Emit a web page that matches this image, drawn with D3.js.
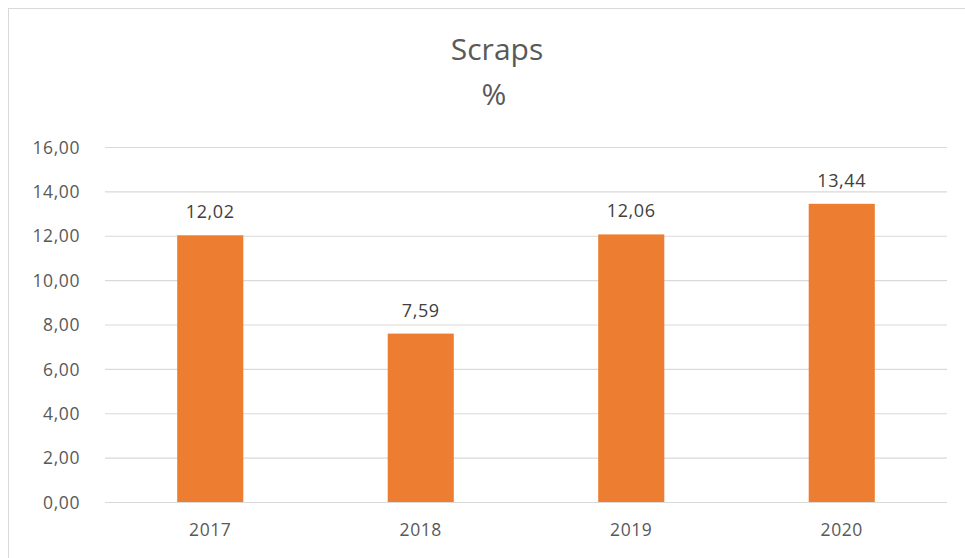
<!DOCTYPE html>
<html>
<head>
<meta charset="utf-8">
<script src="https://cdn.jsdelivr.net/npm/d3@7"></script>
<style>
  html, body { margin: 0; padding: 0; background: #ffffff; }
  svg { display: block; }
</style>
</head>
<body>
<svg id="chart" width="965" height="558"></svg>
<script>
const categories = ["2017", "2018", "2019", "2020"];
const values = [12.02, 7.59, 12.06, 13.44];
const tickValues = [0, 2, 4, 6, 8, 10, 12, 14, 16];
const titleLines = ["Scraps", "%"];

const fmt = v => v.toFixed(2).replace(".", ",");

const svg = d3.select("#chart");
const W = 965, H = 558;

svg.append("rect").attr("x", 0).attr("y", 0).attr("width", W).attr("height", H).attr("fill", "#ffffff");
// chart frame (top and left edges visible)
svg.append("rect").attr("x", 8.5).attr("y", 8.5).attr("width", W + 20).attr("height", H + 20)
  .attr("fill", "#ffffff").attr("stroke", "#d9d9d9").attr("stroke-width", 1);

const x = d3.scaleBand().domain(categories).range([105, 947]).paddingInner(0.686).paddingOuter(0.343);
const y = d3.scaleLinear().domain([0, 16]).range([502, 147]);

const font = "'Open Sans', 'Liberation Sans', sans-serif";

// gridlines + y tick labels
const yAxis = d3.axisLeft(y).tickValues(tickValues).tickSize(-(947 - 105)).tickFormat(fmt).tickPadding(25);
const gy = svg.append("g").attr("transform", "translate(105,0)").call(yAxis);
gy.select(".domain").remove();
gy.selectAll(".tick line").attr("stroke", "#d9d9d9").attr("stroke-width", 1.2);
gy.selectAll(".tick text").attr("fill", "#595959").style("font-family", font)
  .style("font-size", "17.5px").style("letter-spacing", "0.6px").attr("dy", "0.35em");

// bars
svg.append("g").selectAll("rect").data(categories).join("rect")
  .attr("x", d => x(d))
  .attr("width", x.bandwidth())
  .attr("y", (d, i) => y(values[i]))
  .attr("height", (d, i) => y(0) - y(values[i]))
  .attr("fill", "#ED7D31");

// data labels
svg.append("g").selectAll("text").data(categories).join("text")
  .attr("x", d => x(d) + x.bandwidth() / 2)
  .attr("y", (d, i) => y(values[i]) - 17)
  .attr("text-anchor", "middle")
  .attr("fill", "#404040")
  .style("font-family", font).style("font-size", "18px").style("letter-spacing", "0.6px")
  .text((d, i) => fmt(values[i]));

// x axis labels
const xAxis = d3.axisBottom(x).tickSize(0).tickPadding(22);
const gx = svg.append("g").attr("transform", "translate(0,502)").call(xAxis);
gx.select(".domain").remove();
gx.selectAll(".tick text").attr("fill", "#595959").style("font-family", font)
  .style("font-size", "17.5px").style("letter-spacing", "0.6px");

// title
svg.append("text").attr("x", 497).attr("y", 60).attr("text-anchor", "middle")
  .attr("fill", "#595959").style("font-family", font).style("font-size", "30px").style("font-weight", 400)
  .text(titleLines[0]);
svg.append("text").attr("x", 494).attr("y", 105).attr("text-anchor", "middle")
  .attr("fill", "#595959").style("font-family", font).style("font-size", "30px").style("font-weight", 400)
  .text(titleLines[1]);
</script>
</body>
</html>
